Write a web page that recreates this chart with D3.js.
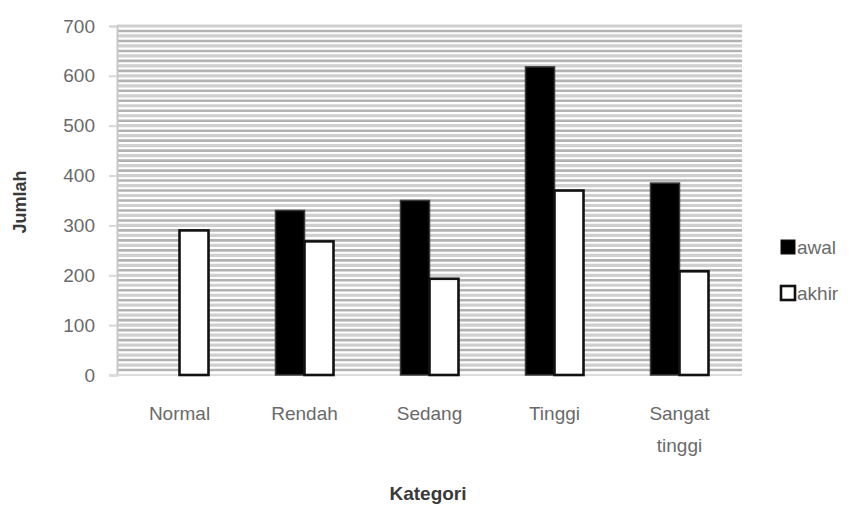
<!DOCTYPE html>
<html>
<head>
<meta charset="utf-8">
<script src="https://cdn.jsdelivr.net/npm/d3@7"></script>
<style>
  html, body { margin: 0; padding: 0; background: #fff; }
  svg text { font-family: "Liberation Sans", Arial, sans-serif; }
</style>
</head>
<body>
<svg id="chart" width="853" height="508"></svg>
<script>
// Jumlah per kategori, awal vs akhir
const categories = ["Normal", "Rendah", "Sedang", "Tinggi", "Sangat tinggi"];
const categoryLines = [["Normal"], ["Rendah"], ["Sedang"], ["Tinggi"], ["Sangat", "tinggi"]];
const seriesNames = ["awal", "akhir"];
const awal = [0, 330, 350, 618, 385];
const akhir = [290, 268, 193, 370, 208];
const yTicks = [0, 100, 200, 300, 400, 500, 600, 700];

const svg = d3.select("#chart");
const plot = { left: 117, right: 742, top: 26, bottom: 375 };

const y = d3.scaleLinear().domain([0, 700]).range([plot.bottom, plot.top]);
const x0 = d3.scaleBand().domain(categories).range([plot.left, plot.right])
  .paddingInner(0.536).paddingOuter(0.268);
const x1 = d3.scaleBand().domain(seriesNames).range([0, x0.bandwidth()]);

// dense minor gridlines every 10 units
const minor = d3.range(10, 701, 10);
svg.append("g").selectAll("line").data(minor).join("line")
  .attr("x1", plot.left).attr("x2", plot.right)
  .attr("y1", d => y(d)).attr("y2", d => y(d))
  .attr("stroke", d => (d % 20 === 0 ? "#cfcfcf" : "#b2b2b2"))
  .attr("stroke-width", d => (d % 20 === 0 ? 3.2 : 2.6));

// y axis
const yAxis = svg.append("g").attr("transform", `translate(${plot.left},0)`)
  .call(d3.axisLeft(y).tickValues(yTicks).tickSize(8).tickPadding(14));
yAxis.select(".domain").attr("stroke", "#c8c8c8").attr("stroke-width", 2);
yAxis.selectAll(".tick line").attr("stroke", "#d8d8d8").attr("stroke-width", 2);
yAxis.selectAll(".tick text").attr("fill", "#6a6a6a").attr("font-size", 19);

// x axis baseline
svg.append("line")
  .attr("x1", plot.left - 8).attr("x2", plot.right)
  .attr("y1", y(0)).attr("y2", y(0))
  .attr("stroke", "#dcdcdc").attr("stroke-width", 2);

// bars
const rows = categories.map((c, i) => ({ cat: c, values: [awal[i], akhir[i]] }));
const groups = svg.append("g").selectAll("g").data(rows).join("g")
  .attr("transform", d => `translate(${x0(d.cat)},0)`);
groups.selectAll("rect").data(d => d.values.map((v, j) => ({ name: seriesNames[j], v })))
  .join("rect")
  .filter(d => d.v > 0)
  .attr("x", d => x1(d.name))
  .attr("width", x1.bandwidth())
  .attr("y", d => y(d.v))
  .attr("height", d => y(0) - y(d.v))
  .attr("fill", d => (d.name === "awal" ? "#000" : "#fff"))
  .attr("stroke", d => (d.name === "awal" ? "#3a3a3a" : "#111"))
  .attr("stroke-width", d => (d.name === "awal" ? 1.5 : 2.6));

// category labels
const labels = svg.append("g").selectAll("text").data(categories).join("text")
  .attr("x", d => x0(d) + x0.bandwidth() / 2)
  .attr("y", 420)
  .attr("text-anchor", "middle")
  .attr("font-size", 19)
  .attr("fill", "#6a6a6a");
labels.each(function (d, i) {
  const t = d3.select(this);
  categoryLines[i].forEach((line, k) => {
    t.append("tspan").attr("x", x0(d) + x0.bandwidth() / 2)
      .attr("dy", k === 0 ? 0 : 32).text(line);
  });
});

// axis titles
svg.append("text")
  .attr("x", 428).attr("y", 500)
  .attr("text-anchor", "middle")
  .attr("font-size", 19).attr("font-weight", "bold")
  .attr("fill", "#3a3a3a")
  .text("Kategori");

svg.append("text")
  .attr("transform", "translate(26,202) rotate(-90)")
  .attr("text-anchor", "middle")
  .attr("font-size", 18).attr("font-weight", "bold")
  .attr("fill", "#3a3a3a")
  .text("Jumlah");

// legend
const legend = svg.append("g").attr("transform", "translate(781,240)");
seriesNames.forEach((name, i) => {
  const g = legend.append("g").attr("transform", `translate(0,${i * 46})`);
  g.append("rect")
    .attr("x", 0).attr("y", 0).attr("width", 14).attr("height", 14)
    .attr("fill", name === "awal" ? "#000" : "#fff")
    .attr("stroke", "#111").attr("stroke-width", name === "awal" ? 1 : 2.6);
  g.append("text")
    .attr("x", 16).attr("y", 14)
    .attr("font-size", 19).attr("fill", "#6a6a6a")
    .text(name);
});
</script>
</body>
</html>
